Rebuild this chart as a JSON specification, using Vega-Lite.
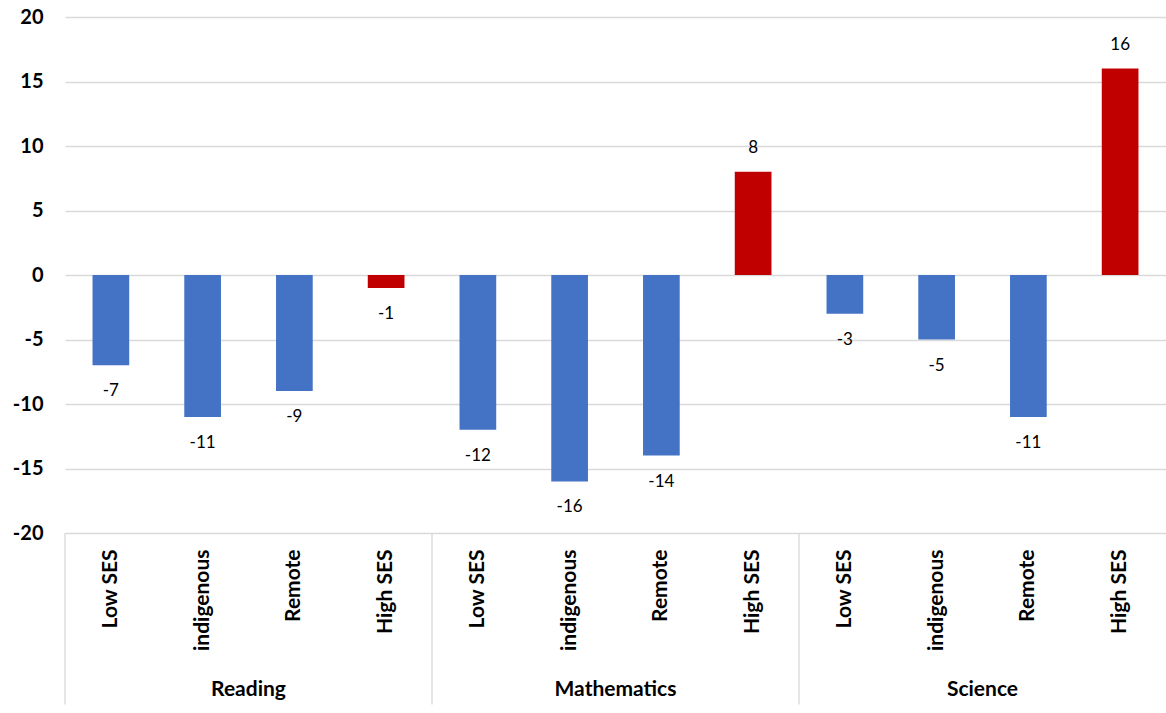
{
  "$schema": "https://vega.github.io/schema/vega-lite/v6.json",
  "width": 1101,
  "height": 516,
  "autosize": {"type": "none"},
  "padding": {"left": 65, "top": 17, "right": 0, "bottom": 180},
  "background": "white",
  "config": {
    "view": {"stroke": null},
    "font": "Lato",
    "locale": {
      "number": {"decimal": ".", "thousands": ",", "grouping": [3], "currency": ["$", ""], "minus": "-"}
    }
  },
  "datasets": {
    "bars": [
      {"group": "Reading", "cat": "Low SES", "key": "Reading|Low SES", "value": -7, "kind": "low"},
      {"group": "Reading", "cat": "indigenous", "key": "Reading|indigenous", "value": -11, "kind": "low"},
      {"group": "Reading", "cat": "Remote", "key": "Reading|Remote", "value": -9, "kind": "low"},
      {"group": "Reading", "cat": "High SES", "key": "Reading|High SES", "value": -1, "kind": "high"},
      {"group": "Mathematics", "cat": "Low SES", "key": "Mathematics|Low SES", "value": -12, "kind": "low"},
      {"group": "Mathematics", "cat": "indigenous", "key": "Mathematics|indigenous", "value": -16, "kind": "low"},
      {"group": "Mathematics", "cat": "Remote", "key": "Mathematics|Remote", "value": -14, "kind": "low"},
      {"group": "Mathematics", "cat": "High SES", "key": "Mathematics|High SES", "value": 8, "kind": "high"},
      {"group": "Science", "cat": "Low SES", "key": "Science|Low SES", "value": -3, "kind": "low"},
      {"group": "Science", "cat": "indigenous", "key": "Science|indigenous", "value": -5, "kind": "low"},
      {"group": "Science", "cat": "Remote", "key": "Science|Remote", "value": -11, "kind": "low"},
      {"group": "Science", "cat": "High SES", "key": "Science|High SES", "value": 16, "kind": "high"}
    ],
    "groups": [
      {"group": "Reading", "first": "Reading|Low SES", "mid": "Reading|indigenous"},
      {"group": "Mathematics", "first": "Mathematics|Low SES", "mid": "Mathematics|indigenous"},
      {"group": "Science", "first": "Science|Low SES", "mid": "Science|indigenous"}
    ]
  },
  "layer": [
    {
      "data": {"name": "bars"},
      "mark": {"type": "bar", "width": {"band": 0.4}},
      "encoding": {
        "x": {
          "field": "key",
          "type": "nominal",
          "scale": {
            "domain": ["Reading|Low SES", "Reading|indigenous", "Reading|Remote", "Reading|High SES",
                       "Mathematics|Low SES", "Mathematics|indigenous", "Mathematics|Remote", "Mathematics|High SES",
                       "Science|Low SES", "Science|indigenous", "Science|Remote", "Science|High SES"],
            "paddingInner": 0, "paddingOuter": 0
          },
          "axis": {
            "title": null,
            "domain": false,
            "ticks": false,
            "grid": false,
            "labelExpr": "split(datum.value, '|')[1]",
            "labelAngle": -90,
            "labelAlign": "right",
            "labelBaseline": "middle",
            "labelPadding": 16,
            "labelFontSize": 21,
            "labelFontWeight": "bold",
            "labelColor": "#000000",
            "labelFont": "Lato"
          }
        },
        "y": {
          "field": "value",
          "type": "quantitative",
          "scale": {"domain": [-20, 20], "nice": false},
          "axis": {
            "title": null,
            "values": [-20, -15, -10, -5, 0, 5, 10, 15, 20],
            "domain": false,
            "ticks": false,
            "grid": true,
            "gridColor": "#d9d9d9",
            "gridWidth": 1.3,
            "labelPadding": 22,
            "labelFontSize": 20,
            "labelFontWeight": "bold",
            "labelColor": "#000000",
            "labelFont": "Lato"
          }
        },
        "color": {
          "field": "kind",
          "type": "nominal",
          "scale": {"domain": ["low", "high"], "range": ["#4472C4", "#C00000"]},
          "legend": null
        }
      }
    },
    {
      "data": {"name": "bars"},
      "transform": [{"filter": "datum.value < 0"}],
      "mark": {"type": "text", "baseline": "middle", "dy": 26, "fontSize": 17, "color": "#000000", "font": "Lato"},
      "encoding": {
        "x": {"field": "key", "type": "nominal"},
        "y": {"field": "value", "type": "quantitative"},
        "text": {"field": "value", "type": "quantitative", "format": "d"}
      }
    },
    {
      "data": {"name": "bars"},
      "transform": [{"filter": "datum.value >= 0"}],
      "mark": {"type": "text", "baseline": "middle", "dy": -24, "fontSize": 17, "color": "#000000", "font": "Lato"},
      "encoding": {
        "x": {"field": "key", "type": "nominal"},
        "y": {"field": "value", "type": "quantitative"},
        "text": {"field": "value", "type": "quantitative", "format": "d"}
      }
    },
    {
      "data": {"name": "groups"},
      "mark": {"type": "rule", "color": "#d9d9d9", "strokeWidth": 1.3},
      "encoding": {
        "x": {"field": "first", "type": "nominal", "bandPosition": 0},
        "y": {"datum": -20, "type": "quantitative"},
        "y2": {"datum": -33.3}
      }
    },
    {
      "data": {"name": "groups"},
      "mark": {"type": "text", "baseline": "middle", "align": "center", "fontSize": 21, "fontWeight": "bold", "color": "#000000", "font": "Lato"},
      "encoding": {
        "x": {"field": "mid", "type": "nominal", "bandPosition": 1},
        "y": {"datum": -32.2, "type": "quantitative"},
        "text": {"field": "group"}
      }
    }
  ]
}
